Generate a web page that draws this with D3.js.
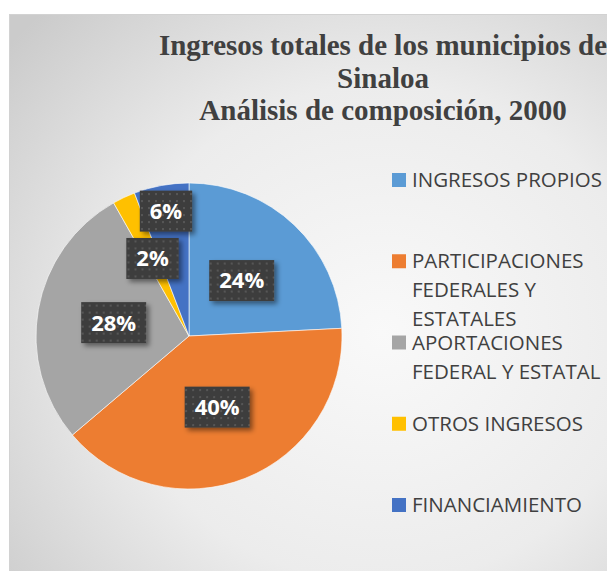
<!DOCTYPE html>
<html>
<head>
<meta charset="utf-8">
<title>Ingresos totales de los municipios de Sinaloa</title>
<style>
  html, body { margin: 0; padding: 0; background: #fff; }
  svg { display: block; overflow: hidden; }
</style>
</head>
<body>
<svg id="chart" width="607" height="571"></svg>
<script src="https://cdnjs.cloudflare.com/ajax/libs/d3/7.8.5/d3.min.js"></script>
<script>
// data (percent of total income)
var categories = ['INGRESOS PROPIOS', 'PARTICIPACIONES FEDERALES Y ESTATALES',
  'APORTACIONES FEDERAL Y ESTATAL', 'OTROS INGRESOS', 'FINANCIAMIENTO'];
var shares = [24.2, 39.6, 28.0, 2.4, 5.8];
var titleLines = ['Ingresos totales de los municipios de', 'Sinaloa', 'Análisis de composición, 2000'];

var palette = ['#5b9bd5', '#ed7d31', '#a5a5a5', '#ffc000', '#4472c4'];
var color = d3.scaleOrdinal().domain(categories).range(palette);

var svg = d3.select('#chart');
var defs = svg.append('defs');

// background gradient of the chart area
var bg = defs.append('radialGradient').attr('id', 'bg')
  .attr('cx', '0.6').attr('cy', '0.55').attr('r', '0.78');
bg.append('stop').attr('offset', '0').attr('stop-color', '#f9f9f9');
bg.append('stop').attr('offset', '0.55').attr('stop-color', '#ececec');
bg.append('stop').attr('offset', '1').attr('stop-color', '#cbcbcb');

// dotted dark fill of the data labels
var pat = defs.append('pattern').attr('id', 'dots')
  .attr('width', 7).attr('height', 7).attr('patternUnits', 'userSpaceOnUse');
pat.append('rect').attr('width', 7).attr('height', 7).attr('fill', '#3d3d3d');
pat.append('rect').attr('x', 3).attr('y', 3).attr('width', 2).attr('height', 2).attr('fill', '#575757');

defs.append('filter').attr('id', 'shadow')
  .attr('x', '-30%').attr('y', '-30%').attr('width', '160%').attr('height', '160%')
  .append('feDropShadow').attr('dx', 3).attr('dy', 3).attr('stdDeviation', 2.5)
  .attr('flood-color', '#000').attr('flood-opacity', 0.45);

svg.append('rect')
  .attr('x', 9.5).attr('y', 14.5).attr('width', 620).attr('height', 580)
  .attr('fill', 'url(#bg)').attr('stroke', '#d2d2d2');

// title
svg.append('text')
  .attr('text-anchor', 'middle')
  .attr('font-family', '"Liberation Serif", "Times New Roman", serif')
  .attr('font-weight', 'bold').attr('font-size', 29).attr('fill', '#404040')
  .selectAll('tspan').data(titleLines).join('tspan')
  .attr('x', 383).attr('y', function (d, i) { return 55 + i * 32.5; })
  .text(function (d) { return d; });

// pie
var cx = 189, cy = 336, radius = 153;
var pie = d3.pie().sort(null).value(function (d) { return d; });
var arcs = pie(shares);
var total = d3.sum(shares);
var arc = d3.arc().innerRadius(0).outerRadius(radius);

var g = svg.append('g').attr('transform', 'translate(' + cx + ',' + cy + ')');
g.selectAll('path.slice').data(arcs).join('path')
  .attr('class', 'slice')
  .attr('d', arc)
  .attr('fill', function (d, i) { return color(categories[i]); })
  .attr('stroke', '#fff').attr('stroke-opacity', 0.6).attr('stroke-width', 1);

// data labels: small slices are pushed outwards like Excel's best fit
function labelRadius(d) {
  var f = d.value / total;
  if (f >= 0.1) return radius * 0.5;
  if (f < 0.03) return radius * 0.56;
  return radius * 0.83;
}
var fmt = d3.format('.0%');
var labels = g.selectAll('g.lbl').data(arcs).join('g')
  .attr('class', 'lbl')
  .attr('transform', function (d) {
    var a = (d.startAngle + d.endAngle) / 2, r = labelRadius(d);
    return 'translate(' + (Math.sin(a) * r) + ',' + (-Math.cos(a) * r) + ')';
  });
labels.append('rect').attr('fill', 'url(#dots)').attr('filter', 'url(#shadow)');
var lblText = labels.append('text')
  .attr('text-anchor', 'middle').attr('dy', '0.36em')
  .attr('font-family', '"Open Sans", sans-serif').attr('font-weight', 'bold')
  .attr('font-size', 22).attr('fill', '#fff')
  .text(function (d) { return fmt(d.value / total); });
lblText.each(function (d) {
  var w = this.getComputedTextLength() + 20;
  d3.select(this.parentNode).select('rect')
    .attr('x', -w / 2).attr('y', -20.5).attr('width', w).attr('height', 41);
});

// legend with word wrap
var legend = svg.append('g').attr('font-family', '"Open Sans", sans-serif')
  .attr('font-size', 20.5).attr('fill', '#404040');
var maxW = 196;
categories.forEach(function (name, i) {
  var y0 = 187 + i * 81.25;
  var item = legend.append('g');
  item.append('rect').attr('x', 392).attr('y', y0 - 14).attr('width', 14).attr('height', 14)
    .attr('fill', color(name));
  var t = item.append('text').attr('x', 412).attr('y', y0);
  var words = name.split(' '), line = [], lineNo = 0;
  var ts = t.append('tspan').attr('x', 412).attr('y', y0);
  words.forEach(function (w) {
    line.push(w);
    ts.text(line.join(' '));
    if (ts.node().getComputedTextLength() > maxW && line.length > 1) {
      line.pop();
      ts.text(line.join(' '));
      line = [w];
      lineNo++;
      ts = t.append('tspan').attr('x', 412).attr('y', y0 + lineNo * 29).text(w);
    }
  });
});
</script>
</body>
</html>
